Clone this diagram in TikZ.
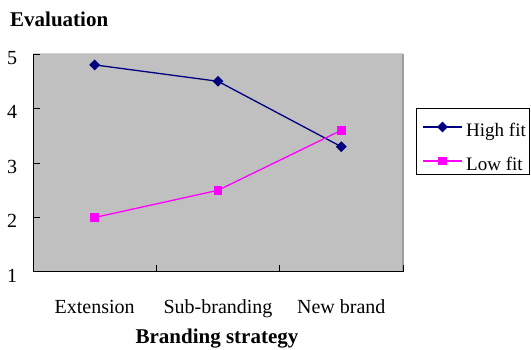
\documentclass[tikz,border=0pt]{standalone}
\usepackage{fontspec}
\setmainfont{Liberation Serif}
\usetikzlibrary{shapes.geometric}
\definecolor{plotbg}{HTML}{C0C0C0}
\definecolor{hifit}{HTML}{000080}
\definecolor{lofit}{HTML}{FF00FF}
\begin{document}
\begin{tikzpicture}[x=1pt,y=-1pt,
  lbl/.style={font=\fontsize{20}{22}\selectfont, inner sep=0},
  keytext/.style={font=\fontsize{19}{22}\selectfont, inner sep=0},
  ttl/.style={font=\fontsize{21}{24}\selectfont\bfseries, inner sep=0},
  himark/.style={diamond, fill=hifit, minimum size=11pt, inner sep=0},
  lomark/.style={rectangle, fill=lofit, minimum size=8.5pt, inner sep=0},
  hiline/.style={draw=hifit, line width=1.3pt},
  loline/.style={draw=lofit, line width=1.3pt},
  tick/.style={draw=black, line width=0.9pt}]
\useasboundingbox (0,0) rectangle (531,350);

% plot area
\fill[plotbg] (33,54) rectangle (403,272);
\draw[gray!35, line width=1pt] (33,54) -- (403,54);
\draw[gray!75, line width=1.3pt] (403,54) -- (403,272);
\draw[black, line width=1pt] (33,54) -- (33,272) -- (403,272);

% ticks
\foreach \yy in {54,108.5,163,217.5} \draw[tick] (33,\yy) -- (40,\yy);
\foreach \xx in {156.3,279.7,403} \draw[tick] (\xx,272) -- (\xx,265);

% value axis labels
\node[lbl, anchor=base] (v5) at (12,64.5) {5};
\node[lbl, anchor=base] (v4) at (12,119) {4};
\node[lbl, anchor=base] (v3) at (12,173.5) {3};
\node[lbl, anchor=base] (v2) at (12,228) {2};
\node[lbl, anchor=base] (v1) at (12,282.5) {1};

% category labels
\node[lbl, anchor=base] (c1) at (94.7,314) {Extension};
\node[lbl, anchor=base] (c2) at (218,314) {Sub-branding};
\node[lbl, anchor=base] (c3) at (341.3,314) {New brand};

% axis titles
\node[ttl, anchor=base west] (ytitle) at (10,27) {Evaluation};
\node[ttl, anchor=base] (xtitle) at (217,344) {Branding strategy};

% data points
\coordinate (h1) at (94.7,64.9);
\coordinate (h2) at (218,81.3);
\coordinate (h3) at (341.3,146.7);
\coordinate (l1) at (94.7,217.5);
\coordinate (l2) at (218,190.3);
\coordinate (l3) at (341.3,130.3);

\draw[hiline] (h1) -- (h2) -- (h3);
\draw[loline] (l1) -- (l2) -- (l3);
\node[himark] (h1m) at (h1) {};
\node[himark] (h2m) at (h2) {};
\node[himark] (h3m) at (h3) {};
\node[lomark] (l1m) at (l1) {};
\node[lomark] (l2m) at (l2) {};
\node[lomark] (l3m) at (l3) {};

% legend
\node[draw=black, line width=0.9pt, minimum width=113pt, minimum height=66pt,
      inner sep=0, anchor=north west] (legend) at (416,108) {};
\coordinate (lh0) at (423,127);
\coordinate (lh1) at (462,127);
\coordinate (ll0) at (423,161);
\coordinate (ll1) at (462,161);
\draw[hiline] (lh0) -- (lh1);
\draw[loline] (ll0) -- (ll1);
\node[himark] (lhm) at (442.5,127) {};
\node[lomark] (llm) at (442.5,161) {};
\node[keytext, anchor=base west] (lht) at (466,137) {High fit};
\node[keytext, anchor=base west] (llt) at (466,171) {Low fit};
\end{tikzpicture}
\end{document}
